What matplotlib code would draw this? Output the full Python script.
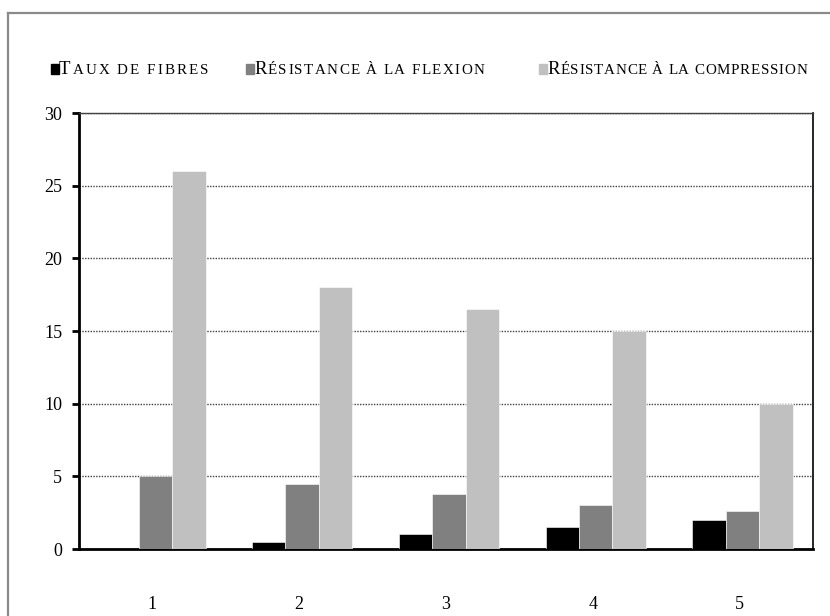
import matplotlib
matplotlib.use("Agg")
import matplotlib.pyplot as plt
import numpy as np
from matplotlib.lines import Line2D
from matplotlib.patches import Rectangle
from matplotlib.font_manager import FontProperties

categories = ["1", "2", "3", "4", "5"]
taux_fibres = [0, 0.5, 1.0, 1.5, 2.0]
flexion = [5.0, 4.5, 3.8, 3.0, 2.6]
compression = [26.0, 18.0, 16.5, 15.0, 10.0]
series_labels = ["Taux de fibres", "Résistance à la flexion", "Résistance à la compression"]
colors = ["#000000", "#808080", "#C0C0C0"]
yticks = [0, 5, 10, 15, 20, 25, 30]

W, H = 830, 616
fig = plt.figure(figsize=(W / 100, H / 100), dpi=100)
plt.rcParams['font.family'] = ['Liberation Serif', 'DejaVu Serif']

def fx(px):
    return px / W

def fy(py):
    return 1 - py / H

ax = fig.add_axes([fx(79), fy(549), fx(813) - fx(79), fy(113) - fy(549)])

x = np.arange(len(categories))
bw = 0.228
off = 0.02
for i, (vals, c) in enumerate(zip([taux_fibres, flexion, compression], colors)):
    ax.bar(x + off + (i - 1) * bw, vals, width=bw, color=c, edgecolor="white", linewidth=0.4, zorder=3)

ax.set_xlim(-0.5, 4.5)
ax.set_ylim(0, 30)
ax.set_yticks(yticks)
ax.set_yticklabels([str(v) for v in yticks])
ax.set_xticks(x)
ax.set_xticklabels(categories)
ax.yaxis.grid(True, linestyle=(0, (1, 1)), color="#404040", linewidth=1.0, zorder=1)
ax.set_axisbelow(True)

for s in ["left", "bottom"]:
    ax.spines[s].set_linewidth(2.0)
    ax.spines[s].set_color("black")
ax.spines["right"].set_linewidth(1.2)
ax.spines["top"].set_linewidth(1.0)
ax.spines["top"].set_linestyle((0, (1, 1)))
ax.spines["top"].set_color("#404040")

ax.tick_params(axis="y", direction="out", length=5, width=2, pad=7, labelsize=13)
ax.tick_params(axis="x", length=0, pad=34, labelsize=13)

# outer frame (gray)
fig.add_artist(Line2D([fx(8), fx(8)], [fy(13), 0], color="#8a8a8a", linewidth=1.6, transform=fig.transFigure))
fig.add_artist(Line2D([fx(8), 1], [fy(13), fy(13)], color="#8a8a8a", linewidth=1.6, transform=fig.transFigure))

# legend with small caps emulation (per-character, spaced to fit)
renderer = fig.canvas.get_renderer()
big, small = 13.5, 10.8
pbig = FontProperties(family='Liberation Serif', size=big)
psmall = FontProperties(family='Liberation Serif', size=small)

def adv(ch, prop):
    w1 = renderer.get_text_width_height_descent("l" + ch + "l", prop, ismath=False)[0]
    w0 = renderer.get_text_width_height_descent("ll", prop, ismath=False)[0]
    return w1 - w0

def smallcaps(px, py, text, target):
    chars = []
    for ch in text:
        isb = ch.isupper()
        prop = pbig if isb else psmall
        chars.append((ch.upper(), prop, adv(ch.upper(), prop)))
    natural = sum(c[2] for c in chars)
    sp = (target - natural) / max(len(chars) - 1, 1)
    cur = px
    for ch, prop, w in chars:
        if ch != " ":
            fig.text(fx(cur), fy(py), ch, fontproperties=prop,
                     ha="left", va="baseline", transform=fig.transFigure)
        cur += w + sp

leg_x = [51, 246, 539]
targets = [149, 230, 260]
for lx, lab, c, tw in zip(leg_x, series_labels, colors, targets):
    fig.add_artist(Rectangle((fx(lx), fy(74)), fx(8), 10 / H, color=c, transform=fig.transFigure))
    smallcaps(lx + 8, 74, lab, tw)

fig.savefig("out.png", dpi=100)
